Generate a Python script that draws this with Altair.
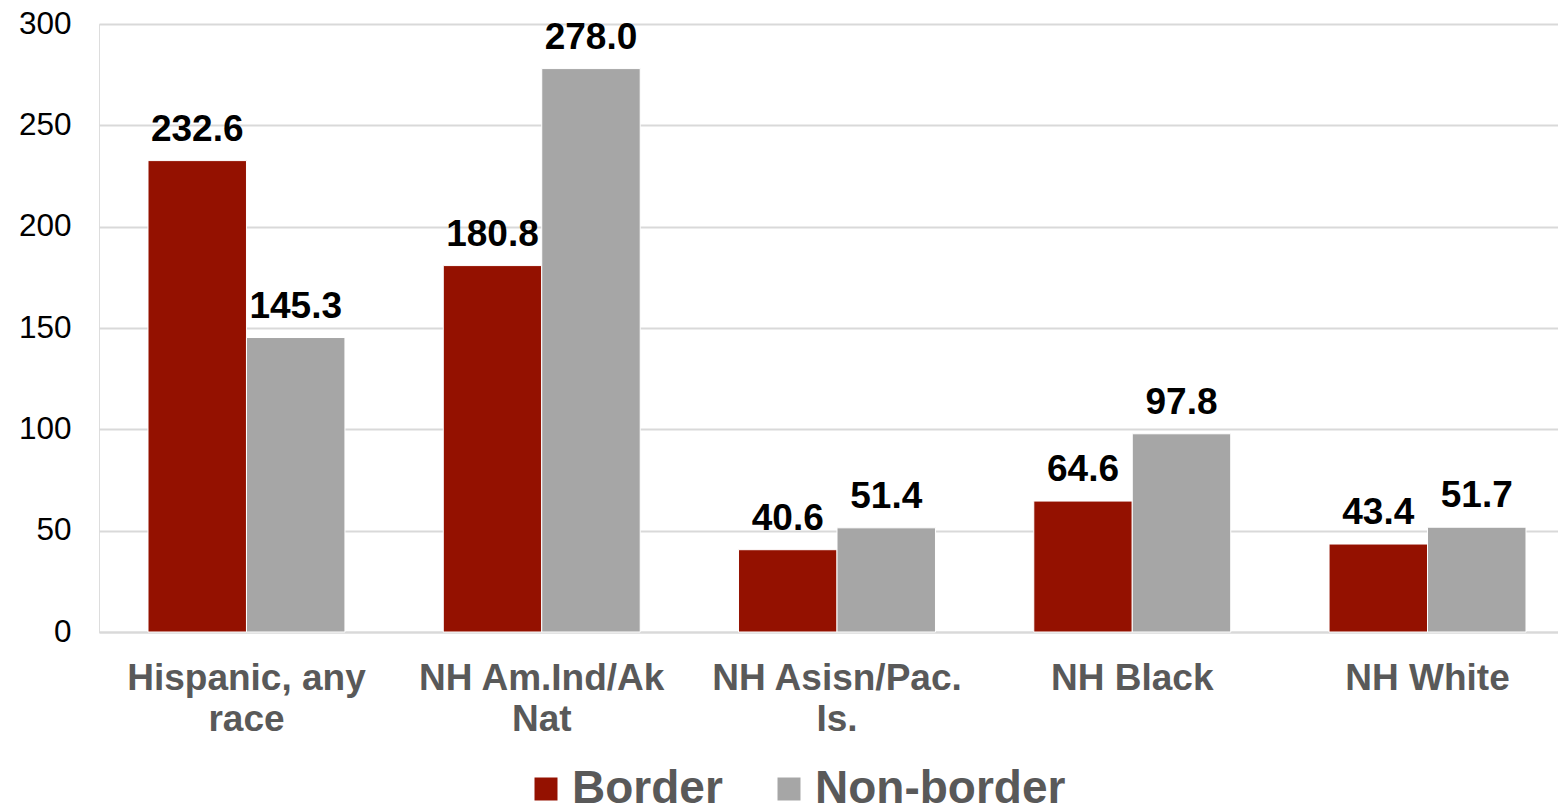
import altair as alt
import pandas as pd

categories = ["Hispanic, any\nrace", "NH Am.Ind/Ak\nNat", "NH Asisn/Pac.\nIs.", "NH Black", "NH White"]
series = ["Border", "Non-border"]
border = [232.6, 180.8, 40.6, 64.6, 43.4]
nonborder = [145.3, 278.0, 51.4, 97.8, 51.7]
colors = ["#941100", "#A6A6A6"]
y_ticks = [0, 50, 100, 150, 200, 250, 300]

rows = []
for c, b, n in zip(categories, border, nonborder):
    rows.append({"cat": c, "series": series[0], "value": b})
    rows.append({"cat": c, "series": series[1], "value": n})
df = pd.DataFrame(rows)

FONT = "Liberation Sans"

x = alt.X("cat:N", sort=categories, title=None,
          scale=alt.Scale(paddingInner=0.333, paddingOuter=0.166, range=[0, 1476]),
          axis=alt.Axis(labelAngle=0, labelFontSize=37, labelFontWeight="bold",
                        labelColor="#595959", labelFont=FONT, labelLineHeight=41,
                        labelPadding=28, ticks=False, domainColor="#D9D9D9",
                        domainWidth=2, labelLimit=0,
                        labelExpr="split(datum.label, '\\n')"))
y = alt.Y("value:Q", title=None,
          scale=alt.Scale(domain=[0, 300], nice=False),
          axis=alt.Axis(values=y_ticks, labelFontSize=31.5, labelColor="#000000",
                        labelFont=FONT, labelPadding=28, ticks=False, domain=False,
                        gridColor="#D9D9D9", gridWidth=2))
xo = alt.XOffset("series:N", sort=series)

bars = alt.Chart(df).mark_bar(stroke="white", strokeWidth=1).encode(
    x=x, y=y, xOffset=xo,
    color=alt.Color("series:N", sort=series,
                    scale=alt.Scale(domain=series, range=colors),
                    legend=alt.Legend(title=None, orient="none", legendX=424, legendY=742,
                                      direction="horizontal", symbolType="square",
                                      symbolSize=529, symbolStrokeWidth=0,
                                      labelFontSize=46, labelFontWeight="bold",
                                      labelColor="#595959", labelFont=FONT,
                                      labelLimit=0,
                                      labelOffset=3, columnPadding=43, padding=0)),
)

labels = alt.Chart(df).mark_text(baseline="alphabetic", dy=-20, fontSize=37,
                                 fontWeight="bold", font=FONT, color="#000000").encode(
    x=x, y=y, xOffset=xo,
    text=alt.Text("value:Q", format=".1f"),
)

chart = alt.layer(bars, labels).properties(
    width=1459, height=608,
    autosize=alt.AutoSizeParams(type="none"),
    padding={"left": 99, "top": 24, "right": 0, "bottom": 174},
).configure_view(stroke=None).configure(background="white")

chart.save("out.html", embed_options={"renderer": "svg", "actions": False})
